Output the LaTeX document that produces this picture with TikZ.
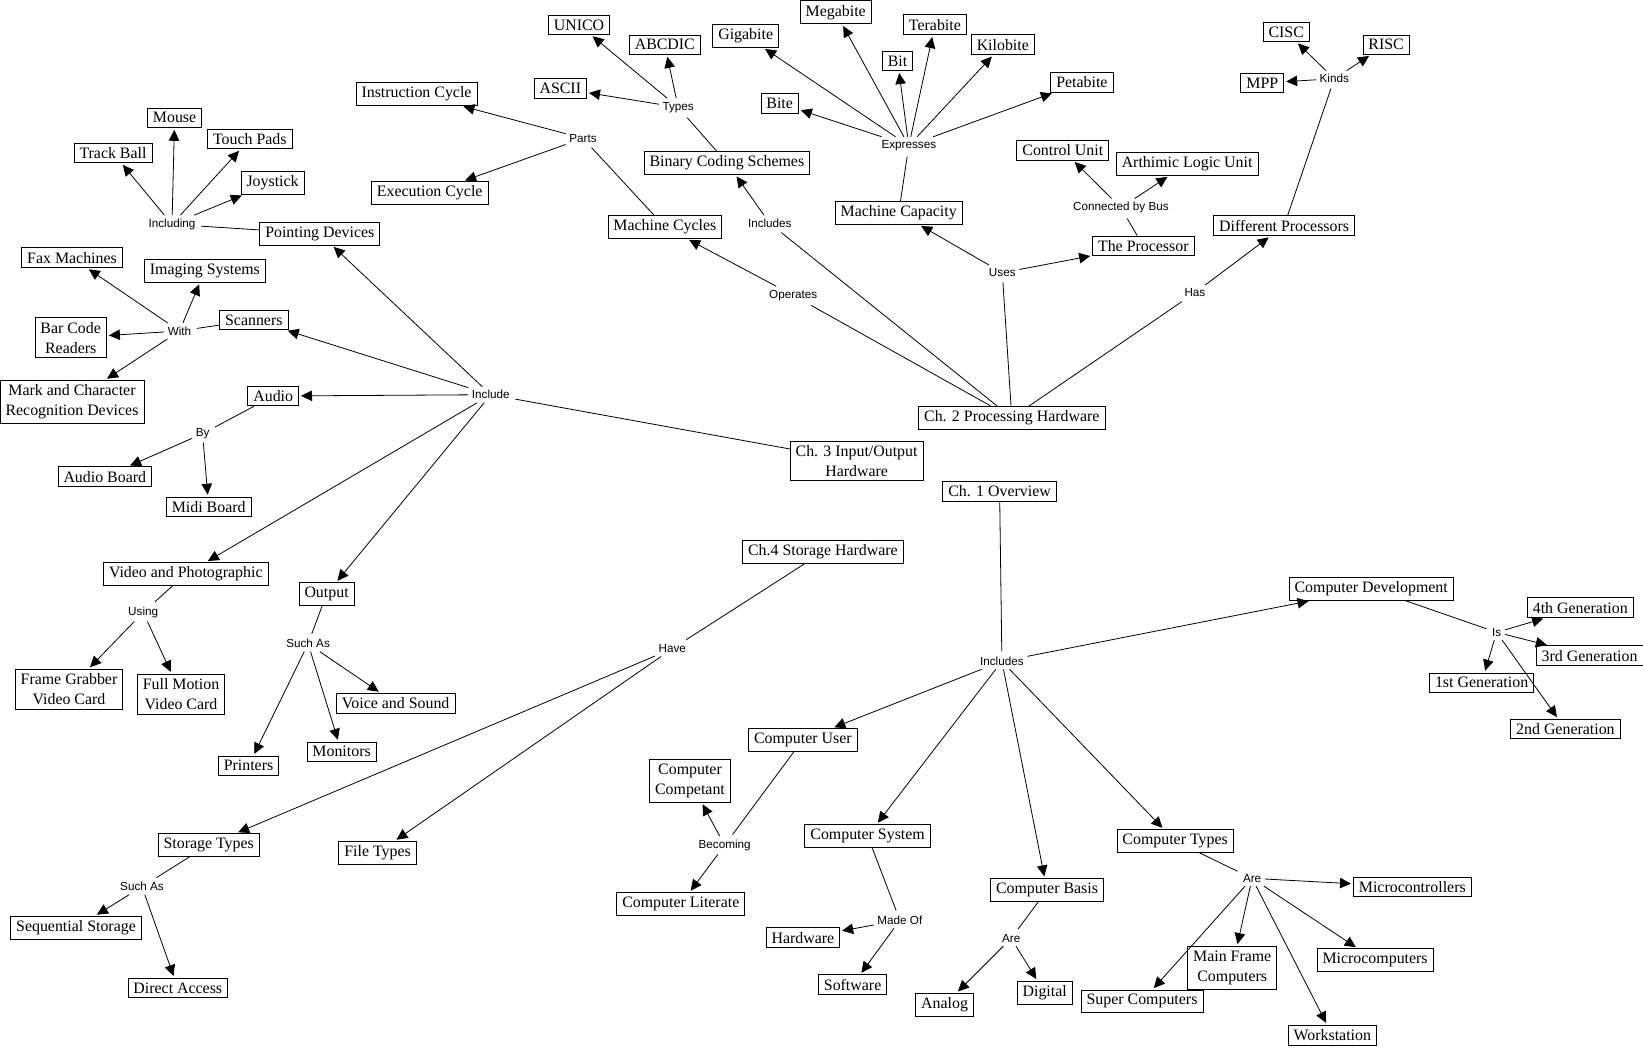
\documentclass[tikz,border=0pt]{standalone}
\usepackage{fontspec}
\setmainfont{Liberation Serif}
\newfontfamily\linkfont{Liberation Sans}
\usepackage{tikz}
\usetikzlibrary{arrows.meta, positioning}

\begin{document}
\begin{tikzpicture}[x=1pt, y=-1pt,
    concept/.style={draw, line width=0.85pt, fill=white, inner xsep=5.5pt, inner ysep=4.3pt, align=center, font=\fontsize{15.9}{20}\selectfont},
    linkword/.style={inner sep=3.5pt, font=\linkfont\fontsize{11.7}{13}\selectfont},
    conn/.style={line width=0.8pt, shorten >=2pt},
    >={Triangle[length=11pt, width=10.5pt]}]
    \useasboundingbox (0,0) rectangle (1643,1047);

    % Ch. 2 Processing Hardware
    \node (ch_two) [concept] at (1011.8,417.8) {Ch. 2 Processing Hardware};
    \node (lbl_operates) [linkword] at (793.2,295.3) {Operates};
    \node (lbl_includes_b) [linkword] at (769.8,223.3) {Includes};
    \node (lbl_uses) [linkword] at (1002.3,272.7) {Uses};
    \node (lbl_has) [linkword] at (1194.9,292.7) {Has};
    \node (machine_cycles) [concept] at (664.9,227) {Machine Cycles};
    \node (binary_coding) [concept] at (726.9,162.8) {Binary Coding Schemes};
    \node (machine_capacity) [concept] at (898.7,213) {Machine Capacity};
    \node (the_processor) [concept] at (1143.3,246) {The Processor};
    \node (diff_processors) [concept] at (1284.1,225.8) {Different Processors};
    \node (lbl_parts) [linkword] at (583,138.3) {Parts};
    \node (instr_cycle) [concept] at (416.5,94) {Instruction Cycle};
    \node (exec_cycle) [concept] at (429.7,193) {Execution Cycle};
    \node (lbl_types) [linkword] at (678.1,107.3) {Types};
    \node (unico) [concept] at (579,25) {UNICO};
    \node (abcdic) [concept] at (664.8,44.8) {ABCDIC};
    \node (ascii) [concept] at (560.3,88.3) {ASCII};
    \node (lbl_expresses) [linkword] at (908.8,145.7) {Expresses};
    \node (bite) [concept] at (779.7,103.3) {Bite};
    \node (gigabite) [concept] at (745.7,35.8) {Gigabite};
    \node (megabite) [concept] at (835.7,12.3) {Megabite};
    \node (bit) [concept] at (897.6,61) {Bit};
    \node (terabite) [concept] at (934.9,24.8) {Terabite};
    \node (kilobite) [concept] at (1002.8,44.8) {Kilobite};
    \node (petabite) [concept] at (1081.9,82.3) {Petabite};
    \node (lbl_bus) [linkword] at (1120.9,207.7) {Connected by Bus};
    \node (control_unit) [concept] at (1062.8,150.2) {Control Unit};
    \node (alu) [concept] at (1187.1,163.8) {Arthimic Logic Unit};
    \node (lbl_kinds) [linkword] at (1334.3,78.7) {Kinds};
    \node (cisc) [concept] at (1286.2,32) {CISC};
    \node (risc) [concept] at (1386.1,44.8) {RISC};
    \node (mpp) [concept] at (1262.3,83) {MPP};

    \draw[conn] (ch_two) -- (lbl_operates);
    \draw[conn,->] (lbl_operates) -- (machine_cycles);
    \draw[conn] (ch_two) -- (lbl_includes_b);
    \draw[conn,->] (lbl_includes_b) -- (binary_coding);
    \draw[conn] (ch_two) -- (lbl_uses);
    \draw[conn,->] (lbl_uses) -- (machine_capacity);
    \draw[conn,->] (lbl_uses) -- (the_processor);
    \draw[conn] (ch_two) -- (lbl_has);
    \draw[conn,->] (lbl_has) -- (diff_processors);
    \draw[conn] (machine_cycles) -- (lbl_parts);
    \draw[conn,->] (lbl_parts) -- (instr_cycle);
    \draw[conn,->] (lbl_parts) -- (exec_cycle);
    \draw[conn] (binary_coding) -- (lbl_types);
    \draw[conn,->] (lbl_types) -- (unico);
    \draw[conn,->] (lbl_types) -- (abcdic);
    \draw[conn,->] (lbl_types) -- (ascii);
    \draw[conn] (machine_capacity) -- (lbl_expresses);
    \draw[conn,->] (lbl_expresses) -- (bite);
    \draw[conn,->] (lbl_expresses) -- (gigabite);
    \draw[conn,->] (lbl_expresses) -- (megabite);
    \draw[conn,->] (lbl_expresses) -- (bit);
    \draw[conn,->] (lbl_expresses) -- (terabite);
    \draw[conn,->] (lbl_expresses) -- (kilobite);
    \draw[conn,->] (lbl_expresses) -- (petabite);
    \draw[conn] (the_processor) -- (lbl_bus);
    \draw[conn,->] (lbl_bus) -- (control_unit);
    \draw[conn,->] (lbl_bus) -- (alu);
    \draw[conn] (diff_processors) -- (lbl_kinds);
    \draw[conn,->] (lbl_kinds) -- (cisc);
    \draw[conn,->] (lbl_kinds) -- (risc);
    \draw[conn,->] (lbl_kinds) -- (mpp);

    % Ch. 3 Input/Output Hardware
    \node (ch_three) [concept] at (856.6,461) {Ch. 3 Input/Output\\Hardware};
    \node (lbl_include) [linkword] at (490.8,394.7) {Include};
    \node (pointing) [concept] at (319.8,233.8) {Pointing Devices};
    \node (scanners) [concept] at (253.8,320) {Scanners};
    \node (audio) [concept] at (273.2,396) {Audio};
    \node (video_photo) [concept] at (185.8,574) {Video and Photographic};
    \node (output) [concept] at (326.6,594) {Output};
    \node (lbl_including) [linkword] at (172,224.3) {Including};
    \node (track_ball) [concept] at (113,153) {Track Ball};
    \node (mouse) [concept] at (174.6,117.8) {Mouse};
    \node (touch_pads) [concept] at (249.8,139) {Touch Pads};
    \node (joystick) [concept] at (272.6,182.8) {Joystick};
    \node (lbl_with) [linkword] at (179.5,331) {With};
    \node (fax) [concept] at (72,257.8) {Fax Machines};
    \node (imaging) [concept] at (204.9,270.8) {Imaging Systems};
    \node (bar_code) [concept] at (70.7,337.8) {Bar Code\\Readers};
    \node (mark_char) [concept] at (72,401.8) {Mark and Character\\Recognition Devices};
    \node (lbl_by) [linkword] at (202.6,433.7) {By};
    \node (audio_board) [concept] at (104.8,476.7) {Audio Board};
    \node (midi_board) [concept] at (208.7,507) {Midi Board};
    \node (lbl_using) [linkword] at (143.2,612.3) {Using};
    \node (frame_grabber) [concept] at (69,689) {Frame Grabber\\Video Card};
    \node (full_motion) [concept] at (181,694) {Full Motion\\Video Card};
    \node (lbl_suchas_out) [linkword] at (308.1,643.7) {Such As};
    \node (printers) [concept] at (248.5,765.8) {Printers};
    \node (monitors) [concept] at (341.6,751.8) {Monitors};
    \node (voice_sound) [concept] at (395.7,703.2) {Voice and Sound};

    \draw[conn] (ch_three) -- (lbl_include);
    \draw[conn,->] (lbl_include) -- (pointing);
    \draw[conn,->] (lbl_include) -- (scanners);
    \draw[conn,->] (lbl_include) -- (audio);
    \draw[conn,->] (lbl_include) -- (video_photo);
    \draw[conn,->] (lbl_include) -- (output);
    \draw[conn] (pointing) -- (lbl_including);
    \draw[conn,->] (lbl_including) -- (track_ball);
    \draw[conn,->] (lbl_including) -- (mouse);
    \draw[conn,->] (lbl_including) -- (touch_pads);
    \draw[conn,->] (lbl_including) -- (joystick);
    \draw[conn] (scanners) -- (lbl_with);
    \draw[conn,->] (lbl_with) -- (fax);
    \draw[conn,->] (lbl_with) -- (imaging);
    \draw[conn,->] (lbl_with) -- (bar_code);
    \draw[conn,->] (lbl_with) -- (mark_char);
    \draw[conn] (audio) -- (lbl_by);
    \draw[conn,->] (lbl_by) -- (audio_board);
    \draw[conn,->] (lbl_by) -- (midi_board);
    \draw[conn] (video_photo) -- (lbl_using);
    \draw[conn,->] (lbl_using) -- (frame_grabber);
    \draw[conn,->] (lbl_using) -- (full_motion);
    \draw[conn] (output) -- (lbl_suchas_out);
    \draw[conn,->] (lbl_suchas_out) -- (printers);
    \draw[conn,->] (lbl_suchas_out) -- (monitors);
    \draw[conn,->] (lbl_suchas_out) -- (voice_sound);

    % Ch.4 Storage Hardware
    \node (ch_four) [concept] at (822.9,552) {Ch.4 Storage Hardware};
    \node (lbl_have) [linkword] at (672.3,648.7) {Have};
    \node (storage_types) [concept] at (208.7,844.8) {Storage Types};
    \node (file_types) [concept] at (377.6,852.8) {File Types};
    \node (lbl_suchas_st) [linkword] at (142,886.7) {Such As};
    \node (sequential) [concept] at (76,927.7) {Sequential Storage};
    \node (direct_access) [concept] at (177.8,988) {Direct Access};

    \draw[conn] (ch_four) -- (lbl_have);
    \draw[conn,->] (lbl_have) -- (storage_types);
    \draw[conn,->] (lbl_have) -- (file_types);
    \draw[conn] (storage_types) -- (lbl_suchas_st);
    \draw[conn,->] (lbl_suchas_st) -- (sequential);
    \draw[conn,->] (lbl_suchas_st) -- (direct_access);

    % Ch. 1 Overview
    \node (ch_one) [concept] at (999.6,491) {Ch. 1 Overview};
    \node (lbl_includes_a) [linkword] at (1001.9,661.3) {Includes};
    \node (comp_dev) [concept] at (1371.2,588.8) {Computer Development};
    \node (comp_user) [concept] at (802.8,739.7) {Computer User};
    \node (comp_system) [concept] at (867.6,836) {Computer System};
    \node (comp_basis) [concept] at (1047,890) {Computer Basis};
    \node (comp_types) [concept] at (1175.1,841) {Computer Types};
    \node (lbl_is) [linkword] at (1496.6,632.3) {Is};
    \node (gen_four) [concept] at (1580.3,607.8) {4th Generation};
    \node (gen_three) [concept] at (1589.6,655.8) {3rd Generation};
    \node (gen_one) [concept] at (1481.6,682.7) {1st Generation};
    \node (gen_two) [concept] at (1565.4,729) {2nd Generation};
    \node (lbl_becoming) [linkword] at (724.6,845.3) {Becoming};
    \node (competant) [concept] at (690,780.8) {Computer\\Competant};
    \node (literate) [concept] at (680.8,904) {Computer Literate};
    \node (lbl_madeof) [linkword] at (899.9,920.3) {Made Of};
    \node (hardware) [concept] at (802.9,937.8) {Hardware};
    \node (software) [concept] at (852.6,984.8) {Software};
    \node (lbl_are_b) [linkword] at (1011.2,938.3) {Are};
    \node (analog) [concept] at (944.6,1004.8) {Analog};
    \node (digital) [concept] at (1044.7,992.7) {Digital};
    \node (lbl_are_t) [linkword] at (1252.1,878.3) {Are};
    \node (microcontrollers) [concept] at (1412.3,887) {Microcontrollers};
    \node (mainframe) [concept] at (1232.2,967.7) {Main Frame\\Computers};
    \node (supercomp) [concept] at (1142,1001.3) {Super Computers};
    \node (microcomp) [concept] at (1375.1,960) {Microcomputers};
    \node (workstation) [concept] at (1332.3,1035) {Workstation};

    \draw[conn] (ch_one) -- (lbl_includes_a);
    \draw[conn,->] (lbl_includes_a) -- (comp_dev);
    \draw[conn,->] (lbl_includes_a) -- (comp_user);
    \draw[conn,->] (lbl_includes_a) -- (comp_system);
    \draw[conn,->] (lbl_includes_a) -- (comp_basis);
    \draw[conn,->] (lbl_includes_a) -- (comp_types);
    \draw[conn] (comp_dev) -- (lbl_is);
    \draw[conn,->] (lbl_is) -- (gen_four);
    \draw[conn,->] (lbl_is) -- (gen_three);
    \draw[conn,->] (lbl_is) -- (gen_one);
    \draw[conn,->] (lbl_is) -- (gen_two);
    \draw[conn] (comp_user) -- (lbl_becoming);
    \draw[conn,->] (lbl_becoming) -- (competant);
    \draw[conn,->] (lbl_becoming) -- (literate);
    \draw[conn] (comp_system) -- (lbl_madeof);
    \draw[conn,->] (lbl_madeof) -- (hardware);
    \draw[conn,->] (lbl_madeof) -- (software);
    \draw[conn] (comp_basis) -- (lbl_are_b);
    \draw[conn,->] (lbl_are_b) -- (analog);
    \draw[conn,->] (lbl_are_b) -- (digital);
    \draw[conn] (comp_types) -- (lbl_are_t);
    \draw[conn,->] (lbl_are_t) -- (microcontrollers);
    \draw[conn,->] (lbl_are_t) -- (mainframe);
    \draw[conn,->] (lbl_are_t) -- (supercomp);
    \draw[conn,->] (lbl_are_t) -- (microcomp);
    \draw[conn,->] (lbl_are_t) -- (workstation);
\end{tikzpicture}
\end{document}
